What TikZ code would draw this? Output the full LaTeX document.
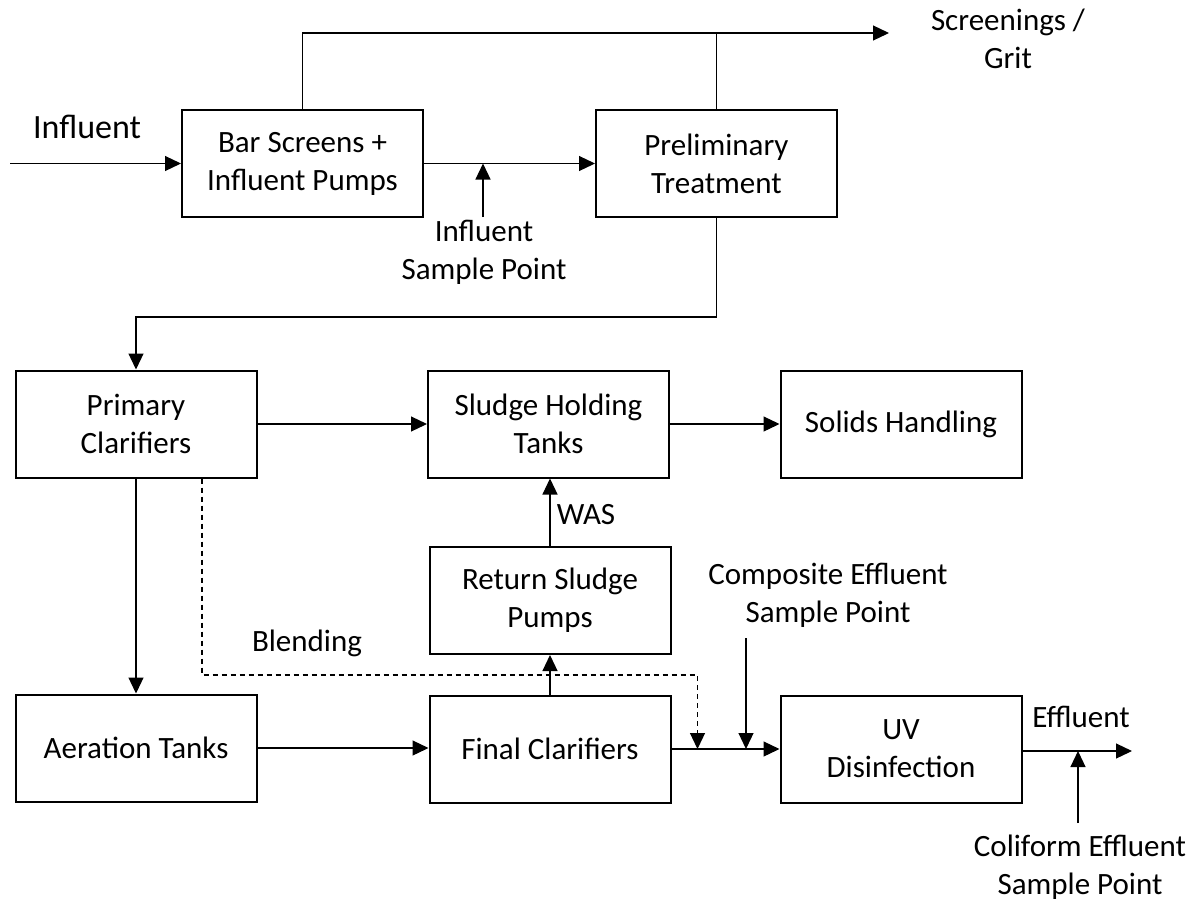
\documentclass[tikz,border=0pt]{standalone}
\usepackage{fontspec}
\setmainfont{Carlito}
\usetikzlibrary{arrows.meta}
\begin{document}
\begin{tikzpicture}[x=1pt,y=-1pt,
  font=\fontsize{31}{38}\selectfont,
  box/.style={draw,line width=2pt,minimum width=241pt,minimum height=107pt,align=center,inner sep=0pt},
  plain/.style={line width=1.2pt},
  conn/.style={line width=1.2pt,-{Triangle[length=16pt,width=15pt]}},
  lbl/.style={align=center,inner sep=0pt}]
\useasboundingbox (0,0) rectangle (1194,900);

% boxes
\node[box] (bar) at (302.5,163.5) {Bar Screens +\\Influent Pumps};
\node[box] (prelim) at (716.5,163.5) {Preliminary\\Treatment};
\node[box] (primary) at (136,424) {Primary\\Clarifiers};
\node[box] (sludge) at (548.5,424) {Sludge Holding\\Tanks};
\node[box] (solids) at (901,424) {Solids Handling};
\node[box] (return) at (550,600.5) {Return Sludge\\Pumps};
\node[box] (aeration) at (136,748) {Aeration Tanks};
\node[box] (final) at (550,749) {Final Clarifiers};
\node[box] (uv) at (901,749) {UV\\Disinfection};

% labels
\node[lbl,font=\fontsize{34}{40}\selectfont] (linf) at (87,127) {Influent};
\node[lbl] (lisp) at (484,252) {Influent\\Sample Point};
\node[lbl] (lscr) at (1008,39) {Screenings /\\Grit};
\node[lbl] (lwas) at (586,515) {WAS};
\node[lbl] (lblend) at (307,643) {Blending};
\node[lbl] (lcomp) at (828,595) {Composite Effluent\\Sample Point};
\node[lbl] (leff) at (1081,717) {Effluent};
\node[lbl] (lcoli) at (1080,867) {Coliform Effluent\\Sample Point};

% coordinates
\coordinate (in) at (10,163.5);
\coordinate (scr) at (889,33);
\coordinate (p1) at (0,317);
\coordinate (is0) at (483,217);
\coordinate (bl) at (697.5,675);
\coordinate (blendin) at (697.5,749);
\coordinate (cs0) at (746,638);
\coordinate (cs1) at (746,749);
\coordinate (eff) at (1132,751);
\coordinate (cf0) at (1078,823);

% connectors
\draw[conn] (in) -- (bar.west);
\draw[conn] (bar.east) -- (prelim.west);
\draw[conn] (bar.north) |- (scr);
\draw[plain] (prelim.north) -- (prelim.north |- scr);
\draw[conn] (is0) -- (is0 |- bar.east);
\draw[conn] (prelim.south) |- (primary.north |- p1) -- (primary.north);
\draw[conn] (primary.east) -- (sludge.west);
\draw[conn] (sludge.east) -- (solids.west);
\draw[conn] (primary.south) -- (aeration.north);
\draw[conn] (aeration.east) -- (aeration.east -| final.west);
\draw[conn] (final.north) -- (return.south);
\draw[conn] (return.north) -- (return.north |- sludge.south);
\draw[conn] (final.east) -- (uv.west);
\draw[conn,dash pattern=on 5pt off 4pt] ([xshift=66pt]primary.south) |- (bl) -- (blendin);
\draw[conn] (cs0) -- (cs1);
\draw[conn] (uv.east |- eff) -- (eff);
\draw[conn] (cf0) -- (cf0 |- eff);
\end{tikzpicture}
\end{document}
